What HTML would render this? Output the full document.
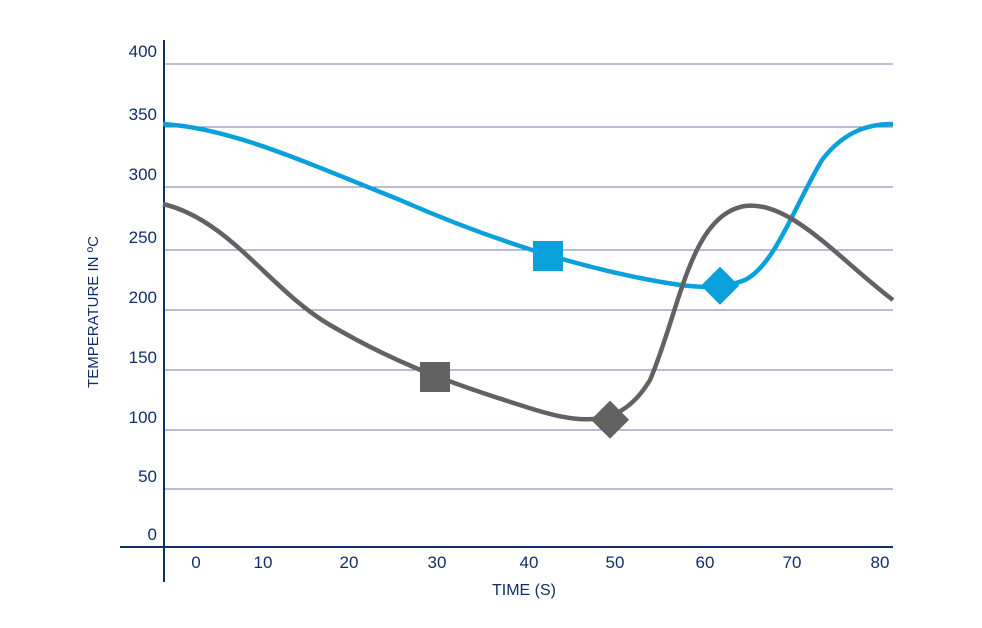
<!DOCTYPE html>
<html><head><style>body{margin:0;background:#fff}svg{display:block}</style></head><body>
<svg width="982" height="628" xmlns="http://www.w3.org/2000/svg" font-family="Liberation Sans, sans-serif">
<g stroke="#6f7ea8" stroke-width="1">
<line x1="163" y1="64" x2="893" y2="64"/><line x1="163" y1="127" x2="893" y2="127"/>
<line x1="163" y1="187" x2="893" y2="187"/><line x1="163" y1="250" x2="893" y2="250"/>
<line x1="163" y1="310" x2="893" y2="310"/><line x1="163" y1="370" x2="893" y2="370"/>
<line x1="163" y1="430" x2="893" y2="430"/><line x1="163" y1="489" x2="893" y2="489"/>
</g>
<line x1="120" y1="547" x2="893" y2="547" stroke="#112e6b" stroke-width="2"/>
<line x1="164" y1="40" x2="164" y2="582" stroke="#112e6b" stroke-width="2"/>
<g fill="#112e6b" font-size="17" text-anchor="end">
<text x="157" y="57">400</text><text x="157" y="120">350</text><text x="157" y="180">300</text>
<text x="157" y="243">250</text><text x="157" y="303">200</text><text x="157" y="363">150</text>
<text x="157" y="423">100</text><text x="157" y="482">50</text><text x="157" y="540">0</text>
</g>
<g fill="#112e6b" font-size="17" text-anchor="middle">
<text x="196" y="568">0</text><text x="263" y="568">10</text><text x="349" y="568">20</text>
<text x="437" y="568">30</text><text x="529" y="568">40</text><text x="615" y="568">50</text>
<text x="705" y="568">60</text><text x="792" y="568">70</text><text x="880" y="568">80</text>
<text x="524" y="595" font-size="16">TIME (S)</text>
<text transform="translate(98,312) rotate(-90)" font-size="15">TEMPERATURE IN ºC</text>
</g>
<path d="M163,124 C230,128 300,160 400,200 C480,235 560,262 640,278 C680,286 715,292 745,280 C775,265 795,205 822,160 C845,130 870,124 893,124" fill="none" stroke="#0aa0dc" stroke-width="4.5"/>
<path d="M163,204 C230,220 270,290 330,325 C390,360 440,380 520,405 C580,425 620,430 650,380 C680,310 690,215 745,206 C790,200 840,260 893,300" fill="none" stroke="#626262" stroke-width="4.5"/>
<rect x="533" y="241" width="30" height="30" fill="#0aa0dc"/>
<rect x="420" y="362" width="30" height="30" fill="#626262"/>
<rect x="707" y="272" width="27" height="27" fill="#0aa0dc" transform="rotate(45 720 285)"/>
<rect x="597" y="406" width="27" height="27" fill="#626262" transform="rotate(45 610 419)"/>
</svg>
</body></html>
